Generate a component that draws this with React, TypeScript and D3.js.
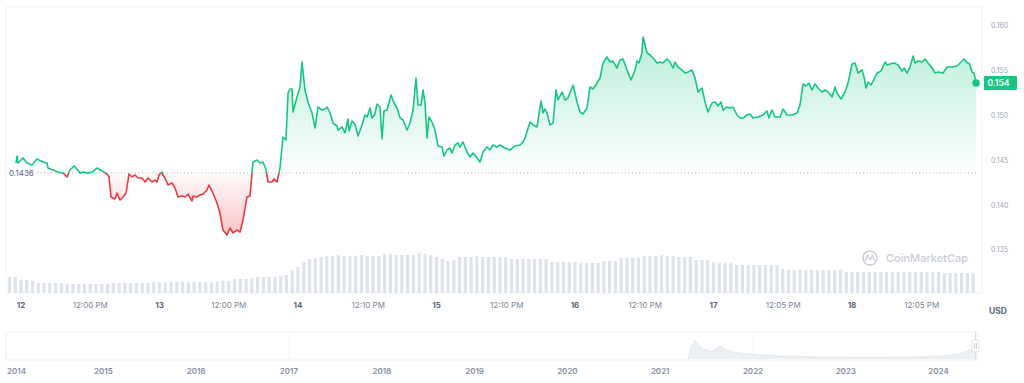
import React from "react";
import * as d3 from "d3";

// [hours since Jan 12 00:00, price USD]
const priceHistory: [number, number][] = [
  [-0.87, 0.14471], [-0.69, 0.14549], [-0.52, 0.14471], [0.35, 0.14527], [1.04, 0.14471],
  [1.91, 0.14449], [2.77, 0.14516], [3.81, 0.14482], [4.51, 0.14471], [4.68, 0.14415],
  [5.55, 0.14393], [6.41, 0.1437], [7.28, 0.14359], [7.97, 0.14315], [8.49, 0.14393],
  [9.18, 0.14437], [9.7, 0.14404], [10.22, 0.14359], [10.74, 0.1437], [11.61, 0.14359],
  [12.3, 0.1437], [13.17, 0.14415], [14.04, 0.14382], [14.9, 0.14348], [15.25, 0.14315],
  [15.6, 0.14091], [16.29, 0.14069], [16.64, 0.14136], [17.16, 0.14058], [17.68, 0.14091],
  [18.2, 0.14136], [18.72, 0.14348], [19.23, 0.14315], [19.75, 0.14337], [20.27, 0.14304],
  [20.97, 0.14304], [21.49, 0.14259], [22.01, 0.14304], [22.7, 0.14259], [23.22, 0.14281],
  [23.57, 0.14259], [23.91, 0.14337], [24.43, 0.1437], [24.61, 0.14337], [24.95, 0.14304],
  [25.47, 0.14225], [26.17, 0.14248], [26.69, 0.14192], [27.21, 0.14091], [27.9, 0.14103],
  [28.42, 0.14091], [28.94, 0.14125], [29.63, 0.14047], [29.81, 0.14103], [30.5, 0.14091],
  [31.02, 0.14114], [31.54, 0.14125], [32.23, 0.1417], [32.58, 0.14225], [33.27, 0.14136],
  [33.96, 0.14025], [34.48, 0.13913], [35.0, 0.13723], [35.7, 0.13667], [36.22, 0.13745],
  [36.74, 0.1369], [37.43, 0.13723], [37.95, 0.13701], [38.47, 0.13835], [39.16, 0.14091],
  [39.68, 0.14103], [40.2, 0.14482], [40.9, 0.14504], [41.42, 0.14471], [41.94, 0.14482],
  [42.46, 0.14393], [42.8, 0.14259], [43.5, 0.14259], [43.84, 0.14292], [44.36, 0.14259],
  [44.71, 0.14359], [44.88, 0.14415], [45.4, 0.14761], [45.92, 0.14728], [46.27, 0.15252],
  [46.61, 0.15297], [46.96, 0.15297], [47.13, 0.1504], [47.83, 0.15208], [48.35, 0.15319],
  [48.69, 0.15598], [49.21, 0.15286], [49.73, 0.15152], [50.43, 0.15029], [50.95, 0.14862],
  [51.47, 0.15096], [52.16, 0.15062], [52.68, 0.15074], [53.03, 0.15096], [53.55, 0.15029],
  [54.07, 0.14917], [54.76, 0.14884], [54.93, 0.14839], [55.63, 0.14873], [56.15, 0.14806],
  [56.67, 0.14962], [56.84, 0.14828], [57.36, 0.1494], [57.88, 0.14906], [58.4, 0.14772],
  [59.09, 0.14895], [59.61, 0.15007], [59.96, 0.14984], [60.48, 0.15085], [60.82, 0.14973],
  [61.34, 0.15018], [61.69, 0.15129], [62.21, 0.15096], [62.56, 0.14739], [62.9, 0.15051],
  [63.42, 0.15062], [64.12, 0.1523], [64.64, 0.15141], [65.16, 0.15085], [65.68, 0.14973],
  [66.2, 0.14951], [66.89, 0.14839], [67.41, 0.14917], [67.93, 0.15062], [68.45, 0.1542],
  [68.8, 0.15118], [69.32, 0.15118], [69.66, 0.15286], [70.01, 0.15141], [70.36, 0.1475],
  [70.7, 0.14984], [71.22, 0.14929], [71.74, 0.14839], [72.26, 0.14661], [72.96, 0.1465],
  [73.3, 0.14549], [73.82, 0.14616], [74.34, 0.14638], [74.69, 0.14583], [75.21, 0.14672],
  [75.73, 0.14694], [76.07, 0.1465], [76.59, 0.14705], [77.29, 0.14594], [77.81, 0.14538],
  [78.33, 0.14583], [79.02, 0.14527], [79.54, 0.14482], [80.06, 0.14594], [80.75, 0.1465],
  [81.27, 0.14616], [81.79, 0.14672], [82.49, 0.1465], [83.01, 0.14672], [83.87, 0.14638],
  [84.74, 0.14616], [85.61, 0.14661], [86.47, 0.14672], [86.99, 0.14705], [87.34, 0.1475],
  [88.2, 0.14929], [88.72, 0.14895], [89.42, 0.14873], [90.11, 0.15163], [90.46, 0.15029],
  [90.8, 0.15074], [91.15, 0.15029], [91.67, 0.14895], [92.19, 0.14917], [92.71, 0.15286],
  [93.06, 0.15174], [93.75, 0.15263], [94.27, 0.15174], [94.79, 0.15196], [95.66, 0.15342],
  [96.35, 0.15152], [96.87, 0.1504], [97.39, 0.15018], [98.08, 0.15085], [98.6, 0.15319],
  [99.12, 0.15297], [99.82, 0.15364], [100.34, 0.1542], [100.86, 0.15587], [101.55, 0.15654],
  [102.07, 0.15598], [102.59, 0.15609], [103.28, 0.15531], [103.8, 0.15621], [104.32, 0.15632],
  [105.01, 0.15509], [105.71, 0.15397], [106.4, 0.15509], [106.75, 0.15609], [107.09, 0.15587],
  [107.61, 0.15699], [107.79, 0.15877], [108.48, 0.15699], [109.0, 0.15676], [109.52, 0.15643],
  [110.21, 0.15587], [110.73, 0.15598], [111.25, 0.15587], [111.95, 0.15632], [112.47, 0.15598],
  [112.98, 0.15531], [113.33, 0.15598], [113.85, 0.15542], [114.54, 0.15509], [115.06, 0.15475],
  [115.58, 0.15487], [116.28, 0.15509], [116.8, 0.1542], [117.32, 0.15263], [118.01, 0.15308],
  [118.53, 0.15152], [119.05, 0.1504], [119.74, 0.15141], [120.26, 0.15152], [120.78, 0.15107],
  [121.3, 0.15152], [121.65, 0.15062], [122.34, 0.15096], [122.86, 0.15085], [123.38, 0.15096],
  [124.08, 0.15007], [124.6, 0.14973], [125.12, 0.14973], [125.81, 0.15007], [126.33, 0.15018],
  [126.85, 0.14973], [127.71, 0.14984], [128.58, 0.15007], [129.27, 0.15051], [129.62, 0.14973],
  [130.14, 0.15062], [130.66, 0.14984], [131.53, 0.14984], [132.05, 0.15074], [132.74, 0.15007],
  [133.61, 0.15007], [134.47, 0.15029], [134.99, 0.15118], [135.51, 0.15353], [136.03, 0.1533],
  [136.55, 0.15364], [137.07, 0.15286], [137.59, 0.15353], [138.11, 0.15308], [138.81, 0.15263],
  [139.33, 0.15286], [139.85, 0.15263], [140.54, 0.15208], [141.06, 0.15319], [141.41, 0.15252],
  [142.1, 0.15185], [142.8, 0.15263], [143.31, 0.15364], [144.01, 0.15576], [144.53, 0.15587],
  [145.05, 0.15475], [145.74, 0.15509], [146.09, 0.15431], [146.44, 0.15308], [146.78, 0.15375],
  [147.3, 0.15342], [147.65, 0.15386], [148.34, 0.15475], [149.04, 0.15498], [149.73, 0.15598],
  [150.07, 0.15565], [150.59, 0.15576], [151.29, 0.15587], [151.98, 0.15565], [152.67, 0.15498],
  [153.02, 0.15531], [153.54, 0.15475], [154.06, 0.15542], [154.58, 0.15665], [154.93, 0.15587],
  [155.45, 0.15609], [156.14, 0.15598], [156.66, 0.15632], [157.18, 0.15587], [157.88, 0.15531],
  [158.4, 0.15475], [158.92, 0.15487], [159.79, 0.15475], [160.48, 0.15542], [161.35, 0.15542],
  [162.21, 0.15554], [162.73, 0.15587], [163.42, 0.15632], [163.94, 0.15587], [164.29, 0.15587],
  [164.8, 0.15487], [165.15, 0.15475], [165.5, 0.15364],
];

const baselinePrice = 0.1436;
const baselineLabel = "0.1436";
const lastPriceLabel = "0.154";

const yTickValues = [0.135, 0.14, 0.145, 0.15, 0.155, 0.16];

const xTickHours = [0, 12, 24, 36, 48, 60.17, 72, 84.17, 96, 108.17, 120, 132.08, 144, 156.08];
const xTickLabels = ["12", "12:00 PM", "13", "12:00 PM", "14", "12:10 PM", "15", "12:10 PM", "16", "12:10 PM", "17", "12:05 PM", "18", "12:05 PM"];

// hourly volume (M USD), first bar at hour -2
const volumeStartHour = -2;
const volumes = [
  16, 16, 13, 13, 12, 10, 10, 10, 10, 10, 9, 9,
  9, 9, 9, 9, 9, 9, 10, 10, 10, 10, 10, 10,
  10, 11, 11, 11, 11, 11, 11, 11, 11, 11, 11, 11,
  11, 12, 12, 14, 14, 14, 15, 16, 16, 16, 16, 17,
  18, 23, 26, 31, 34, 35, 36, 37, 37, 38, 37, 37,
  37, 38, 37, 37, 37, 39, 39, 38, 38, 38, 38, 40,
  39, 38, 36, 34, 32, 33, 36, 36, 36, 37, 36, 36,
  36, 36, 36, 34, 34, 34, 34, 34, 34, 34, 31, 31,
  31, 31, 31, 30, 30, 30, 30, 32, 32, 32, 35, 35,
  35, 35, 37, 37, 37, 38, 37, 37, 36, 36, 36, 33,
  33, 33, 31, 30, 30, 30, 28, 28, 28, 28, 28, 28,
  28, 28, 24, 23, 23, 23, 23, 23, 23, 23, 23, 23,
  23, 21, 21, 21, 21, 21, 21, 21, 21, 21, 21, 21,
  21, 21, 21, 21, 21, 21, 20, 20, 20, 20, 20, 20,
];

// navigator (all-time history)
const navYears = [2021.3, 2021.34, 2021.37, 2021.4, 2021.43, 2021.46, 2021.5, 2021.54, 2021.59, 2021.64, 2021.68, 2021.72, 2021.78, 2021.86, 2021.97, 2022.07, 2022.32, 2022.69, 2023.23, 2023.77, 2024.05, 2024.23, 2024.34, 2024.39];
const navValues = [0, 0.32, 0.44, 0.37, 0.28, 0.23, 0.21, 0.18, 0.21, 0.3, 0.25, 0.21, 0.16, 0.14, 0.115, 0.09, 0.07, 0.046, 0.035, 0.046, 0.07, 0.12, 0.21, 0.32];
const navTickYears = [2014, 2015, 2016, 2017, 2018, 2019, 2020, 2021, 2022, 2023, 2024];
const navGridYears = [2017, 2022];

const GREEN = "#16c784";
const RED = "#ea3943";
const FONT = "Inter, 'Noto Sans', sans-serif";

export default function App() {
  const W = 1024;
  const H = 383;
  const plotLeft = 6;
  const plotRight = 982;
  const plotTop = 7;
  const plotBottom = 293;

  const x = d3.scaleLinear().domain([0, 144]).range([21, 852]);
  const y = d3.scaleLinear().domain([0.135, 0.16]).range([250, 26]);
  const yVol = d3.scaleLinear().domain([0, 50]).range([plotBottom, 243]);
  const xNav = d3.scaleLinear().domain([2014, 2024]).range([10.6, 938.6]);
  const yNav = d3.scaleLinear().domain([0, 0.6]).range([359, 333]);

  const yBase = y(baselinePrice);

  const line = d3
    .line<[number, number]>()
    .x((d) => x(d[0]))
    .y((d) => y(d[1]));
  const area = d3
    .area<[number, number]>()
    .x((d) => x(d[0]))
    .y0(yBase)
    .y1((d) => y(d[1]));

  const navData = navYears.map((yr, i) => [yr, navValues[i]] as [number, number]);
  const navArea = d3
    .area<[number, number]>()
    .x((d) => xNav(d[0]))
    .y0(359)
    .y1((d) => yNav(d[1]));
  const navLine = d3
    .line<[number, number]>()
    .x((d) => xNav(d[0]))
    .y((d) => yNav(d[1]));

  const last = priceHistory[priceHistory.length - 1];
  const lastX = x(last[0]);
  const lastY = y(last[1]);

  return (
    <svg
      width={W}
      height={H}
      style={{ position: "absolute", left: 0, top: 0, background: "#fff" }}
      fontFamily={FONT}
    >
      <defs>
        <clipPath id="above">
          <rect x={0} y={0} width={W} height={yBase} />
        </clipPath>
        <clipPath id="below">
          <rect x={0} y={yBase} width={W} height={H - yBase} />
        </clipPath>
        <linearGradient id="gGreen" gradientUnits="userSpaceOnUse" x1={0} x2={0} y1={y(0.159)} y2={yBase}>
          <stop offset="0" stopColor={GREEN} stopOpacity={0.3} />
          <stop offset="1" stopColor={GREEN} stopOpacity={0.01} />
        </linearGradient>
        <linearGradient id="gRed" gradientUnits="userSpaceOnUse" x1={0} x2={0} y1={yBase} y2={y(0.1365)}>
          <stop offset="0" stopColor={RED} stopOpacity={0.02} />
          <stop offset="1" stopColor={RED} stopOpacity={0.3} />
        </linearGradient>
      </defs>

      {/* plot frame */}
      <rect
        x={plotLeft}
        y={plotTop}
        width={plotRight - plotLeft}
        height={plotBottom - plotTop}
        fill="none"
        stroke="#f1f3f6"
        strokeWidth={1}
      />

      {/* volume bars */}
      <g fill="#dfe3ea">
        {volumes.map((v, i) => {
          const cx = x(volumeStartHour + i);
          return (
            <rect key={i} x={cx - 1.6} y={yVol(v)} width={3.2} height={plotBottom - yVol(v)} />
          );
        })}
      </g>

      {/* watermark */}
      <g>
        <circle cx={870} cy={258} r={7} fill="none" stroke="#c9cdd4" strokeWidth={1.4} />
        <path d="M865.5,261 L867.5,255 L870,260 L872.5,255 L874.5,261" fill="none" stroke="#c9cdd4" strokeWidth={1.3} strokeLinejoin="round" />
        <text x={886} y={262} fontSize={11} fill="#c9cdd4" fontWeight={500}>
          CoinMarketCap
        </text>
      </g>

      {/* areas */}
      <path d={area(priceHistory) || ""} fill="url(#gGreen)" clipPath="url(#above)" />
      <path d={area(priceHistory) || ""} fill="url(#gRed)" clipPath="url(#below)" />

      {/* baseline */}
      <line x1={37} x2={977} y1={yBase} y2={yBase} stroke="#aab0b9" strokeWidth={1} strokeDasharray="1 2.5" />

      {/* price line */}
      <path d={line(priceHistory) || ""} fill="none" stroke={GREEN} strokeWidth={1.6} strokeLinejoin="round" clipPath="url(#above)" />
      <path d={line(priceHistory) || ""} fill="none" stroke={RED} strokeWidth={1.6} strokeLinejoin="round" clipPath="url(#below)" />

      {/* baseline label */}
      <text x={9} y={yBase} dy="0.35em" fontSize={8} fill="#58667e">
        {baselineLabel}
      </text>

      {/* last point */}
      <circle cx={lastX} cy={lastY} r={3.8} fill={GREEN} />

      {/* y axis */}
      <g>
        {yTickValues.map((v) => (
          <text key={v} x={991} y={y(v)} dy="0.35em" fontSize={7} fill="#a1a7b1">
            {v.toFixed(3)}
          </text>
        ))}
      </g>
      <rect x={984} y={lastY - 7} width={33} height={14} fill={GREEN} rx={1} />
      <text x={987.5} y={lastY} dy="0.36em" fontSize={8.5} fontWeight={600} fill="#ffffff">
        {lastPriceLabel}
      </text>

      {/* x axis */}
      <g>
        {xTickHours.map((h, i) => {
          const isDay = /^\d+$/.test(xTickLabels[i]);
          return (
            <text
              key={i}
              x={x(h)}
              y={305}
              dy="0.35em"
              textAnchor="middle"
              fontSize={8}
              fontWeight={isDay ? 700 : 400}
              fill={isDay ? "#58667e" : "#7c8596"}
            >
              {xTickLabels[i]}
            </text>
          );
        })}
      </g>
      <text x={989} y={311} dy="0.35em" fontSize={8.5} fontWeight={700} fill="#58667e">
        USD
      </text>

      {/* navigator */}
      <rect x={6} y={332} width={971} height={28} fill="none" stroke="#eef0f4" strokeWidth={1} />
      {navGridYears.map((yr) => (
        <line key={yr} x1={xNav(yr)} x2={xNav(yr)} y1={333} y2={359} stroke="#f3f4f7" />
      ))}
      <path d={navArea(navData) || ""} fill="#eceff3" />
      <path d={navLine(navData) || ""} fill="none" stroke="#e0e4ea" strokeWidth={0.8} />
      <line x1={975.5} x2={975.5} y1={332} y2={360} stroke="#d9dde3" />
      <rect x={972} y={340} width={7} height={12} rx={2} fill="#ffffff" stroke="#d6dae0" strokeWidth={0.8} />
      <line x1={974.5} x2={974.5} y1={343} y2={349} stroke="#b9bec6" strokeWidth={0.7} />
      <line x1={976.5} x2={976.5} y1={343} y2={349} stroke="#b9bec6" strokeWidth={0.7} />
      {navTickYears.map((yr) => (
        <text
          key={yr}
          x={Math.max(xNav(yr), 16.5)}
          y={371}
          dy="0.35em"
          textAnchor="middle"
          fontSize={8}
          fontWeight={600}
          fill="#858ea0"
        >
          {yr}
        </text>
      ))}
    </svg>
  );
}
